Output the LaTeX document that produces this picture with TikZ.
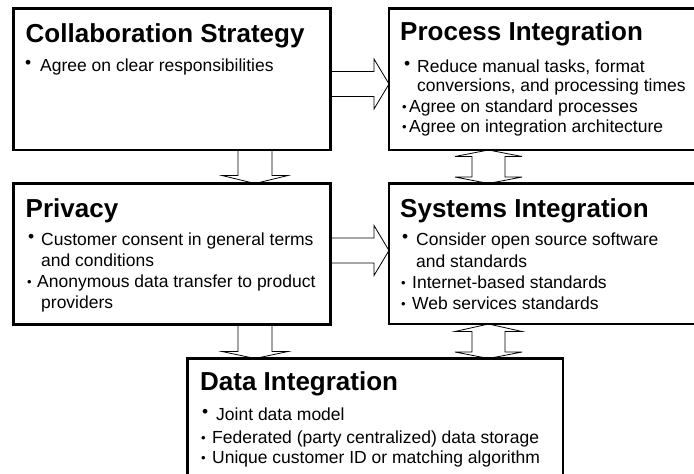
\documentclass[tikz,border=0pt]{standalone}
\usepackage{fontspec}
\setmainfont{Liberation Sans}
\usetikzlibrary{calc}
\newcommand\bigbul{\raisebox{2.5pt}{•}}
\newcommand\smallbul{{\fontsize{13}{13}\selectfont\raisebox{0.8pt}{•}}}
\tikzset{
  box/.style={draw, line width=2.8pt, rectangle, inner sep=0pt, outer sep=0pt, anchor=north west},
  blk/.style={draw, line width=0.8pt, line join=miter},
  ttl/.style={anchor=base west, inner sep=0pt, font=\fontsize{26}{30}\selectfont\bfseries},
  txt/.style={anchor=base west, inner sep=0pt, font=\fontsize{17.5}{21}\selectfont},
}
\begin{document}
\begin{tikzpicture}[x=1pt,y=-1pt]
\useasboundingbox (0,0) rectangle (694,474);
\clip (0,0) rectangle (694,474);
\fill[white] (0,0) rectangle (694,474);

% boxes
\node[box, minimum width=317pt, minimum height=141.5pt] (cs) at (13.5,8.5) {};
\node[box, minimum width=331pt, minimum height=141.5pt] (pi) at (389,8.5) {};
\node[box, minimum width=317pt, minimum height=141pt] (pv) at (13.5,183.5) {};
\node[box, minimum width=331pt, minimum height=140.5pt] (si) at (389,183.5) {};
\node[box, minimum width=375.5pt, minimum height=140pt] (di) at (187.5,358.5) {};

% right block arrows
\draw[blk] (cs.east |- 0,71.5) -- ($(pi.west |- 0,71.5)+(-15,0)$) -- ($(pi.west |- 0,59)+(-15,0)$)
  -- (pi.west |- 0,84) -- ($(pi.west |- 0,109)+(-15,0)$) -- ($(pi.west |- 0,96.5)+(-15,0)$) -- (cs.east |- 0,96.5);
\draw[blk] (pv.east |- 0,238) -- ($(si.west |- 0,238)+(-15,0)$) -- ($(si.west |- 0,225.5)+(-15,0)$)
  -- (si.west |- 0,250.5) -- ($(si.west |- 0,275.5)+(-15,0)$) -- ($(si.west |- 0,263)+(-15,0)$) -- (pv.east |- 0,263);

% down block arrows
\draw[blk] (cs.south -| 238,0) -- ($(pv.north -| 238,0)+(0,-8)$) -- ($(pv.north -| 222,0)+(0,-8)$)
  -- (pv.north -| 255,0) -- ($(pv.north -| 288,0)+(0,-8)$) -- ($(pv.north -| 272,0)+(0,-8)$) -- (cs.south -| 272,0);
\draw[blk] (pv.south -| 238,0) -- ($(di.north -| 238,0)+(0,-7)$) -- ($(di.north -| 222,0)+(0,-7)$)
  -- (di.north -| 255,0) -- ($(di.north -| 288,0)+(0,-7)$) -- ($(di.north -| 272,0)+(0,-7)$) -- (pv.south -| 272,0);

% double block arrows
\draw[blk] (pi.south -| 488.5,0) -- ($(pi.south -| 522,0)+(0,6.5)$) -- ($(pi.south -| 505,0)+(0,6.5)$)
  -- ($(si.north -| 505,0)+(0,-6.5)$) -- ($(si.north -| 522,0)+(0,-6.5)$) -- (si.north -| 488.5,0)
  -- ($(si.north -| 455,0)+(0,-6.5)$) -- ($(si.north -| 472,0)+(0,-6.5)$)
  -- ($(pi.south -| 472,0)+(0,6.5)$) -- ($(pi.south -| 455,0)+(0,6.5)$) -- cycle;
\draw[blk] (si.south -| 488.5,0) -- ($(si.south -| 522,0)+(0,7.5)$) -- ($(si.south -| 505,0)+(0,7.5)$)
  -- ($(di.north -| 505,0)+(0,-6.5)$) -- ($(di.north -| 522,0)+(0,-6.5)$) -- (di.north -| 488.5,0)
  -- ($(di.north -| 455,0)+(0,-6.5)$) -- ($(di.north -| 472,0)+(0,-6.5)$)
  -- ($(si.south -| 472,0)+(0,7.5)$) -- ($(si.south -| 455,0)+(0,7.5)$) -- cycle;

% titles
\node[ttl] (cst) at (25.5,42) {Collaboration Strategy};
\node[ttl] (pit) at (400,40) {Process Integration};
\node[ttl] (pvt) at (25.5,217) {Privacy};
\node[ttl] (sit) at (400,217) {Systems Integration};
\node[ttl] (dit) at (200,390.5) {Data Integration};

% body text
\node[txt] (cs1) at (25,71) {\makebox[15pt][l]{\bigbul}Agree on clear responsibilities};

\node[txt] (pi1) at (404,72) {\makebox[13pt][l]{\bigbul}Reduce manual tasks, format};
\node[txt] (pi2) at (417,91) {conversions, and processing times};
\node[txt] (pi3) at (402,112) {\makebox[7pt][l]{\smallbul}Agree on standard processes};
\node[txt] (pi4) at (402,132) {\makebox[7pt][l]{\smallbul}Agree on integration architecture};

\node[txt] (pv1) at (28,245) {\makebox[13pt][l]{\bigbul}Customer consent in general terms};
\node[txt] (pv2) at (41,266) {and conditions};
\node[txt] (pv3) at (27,287) {\makebox[10pt][l]{\smallbul}Anonymous data transfer to product};
\node[txt] (pv4) at (41,308) {providers};

\node[txt] (si1) at (402,245) {\makebox[14pt][l]{\bigbul}Consider open source software};
\node[txt] (si2) at (416,267) {and standards};
\node[txt] (si3) at (401,288) {\makebox[11pt][l]{\smallbul}Internet-based standards};
\node[txt] (si4) at (401,309) {\makebox[11pt][l]{\smallbul}Web services standards};

\node[txt] (di1) at (202,420) {\makebox[14pt][l]{\bigbul}Joint data model};
\node[txt] (di2) at (201,443) {\makebox[11pt][l]{\smallbul}Federated (party centralized) data storage};
\node[txt] (di3) at (201,463) {\makebox[11pt][l]{\smallbul}Unique customer ID or matching algorithm};
\end{tikzpicture}
\end{document}
